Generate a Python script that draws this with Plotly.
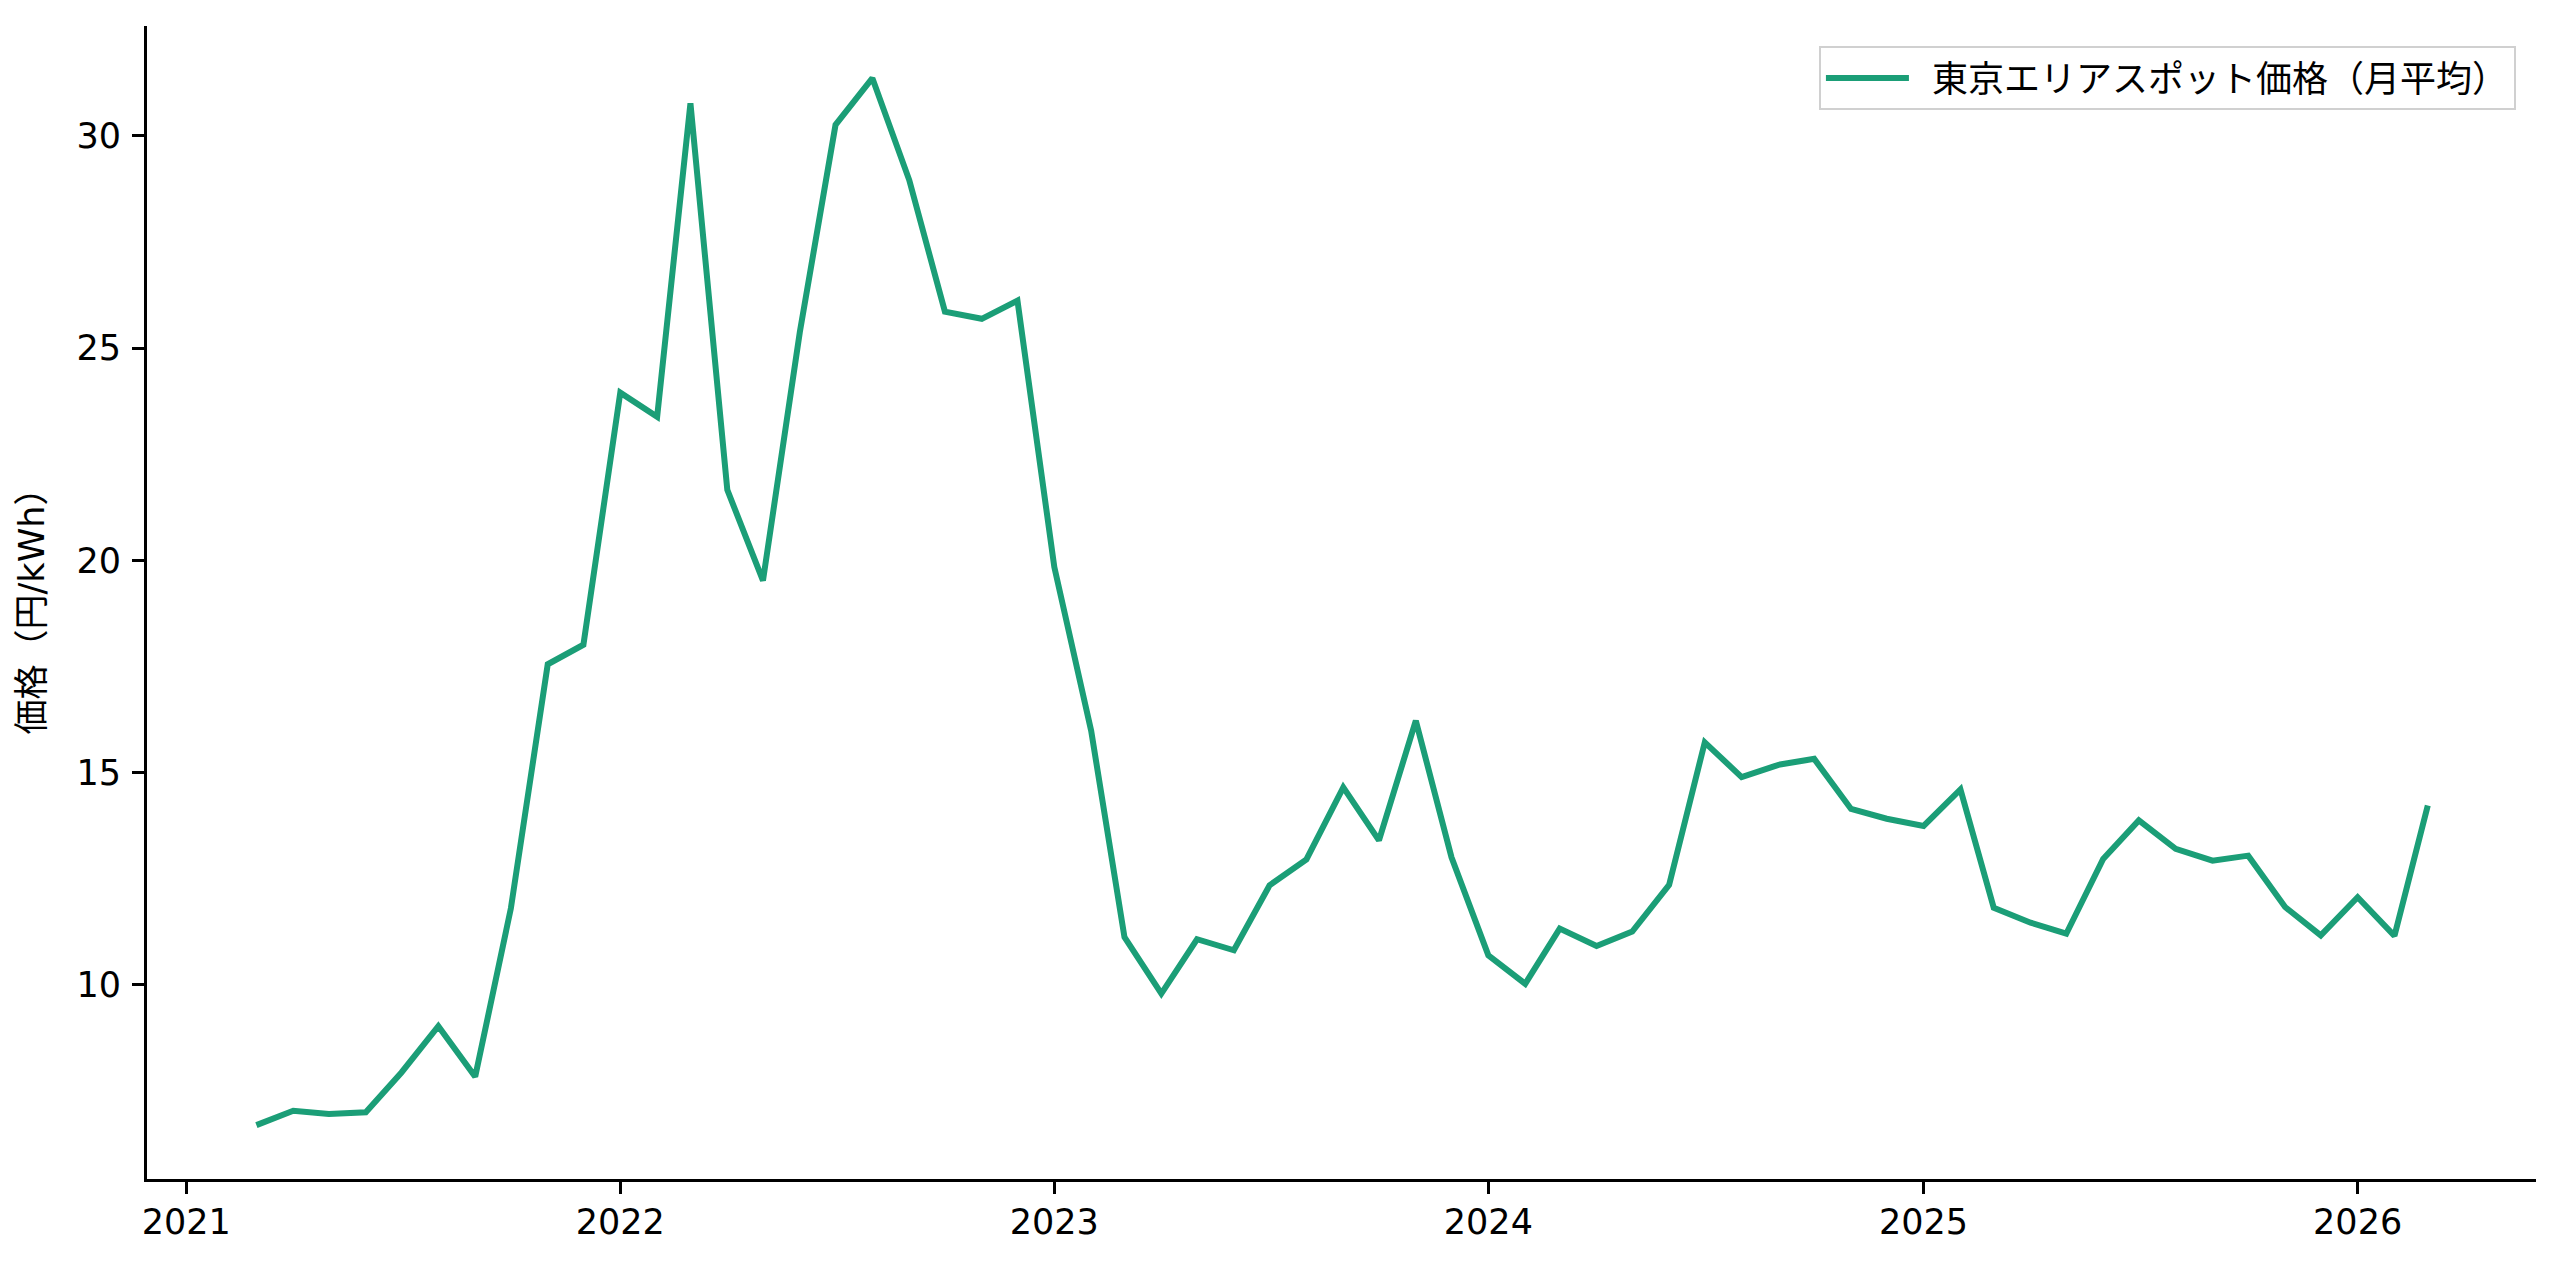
import plotly.graph_objects as go

months = [
    "2021-03-01", "2021-04-01", "2021-05-01", "2021-06-01", "2021-07-01", "2021-08-01",
    "2021-09-01", "2021-10-01", "2021-11-01", "2021-12-01",
    "2022-01-01", "2022-02-01", "2022-03-01", "2022-04-01", "2022-05-01", "2022-06-01",
    "2022-07-01", "2022-08-01", "2022-09-01", "2022-10-01", "2022-11-01", "2022-12-01",
    "2023-01-01", "2023-02-01", "2023-03-01", "2023-04-01", "2023-05-01", "2023-06-01",
    "2023-07-01", "2023-08-01", "2023-09-01", "2023-10-01", "2023-11-01", "2023-12-01",
    "2024-01-01", "2024-02-01", "2024-03-01", "2024-04-01", "2024-05-01", "2024-06-01",
    "2024-07-01", "2024-08-01", "2024-09-01", "2024-10-01", "2024-11-01", "2024-12-01",
    "2025-01-01", "2025-02-01", "2025-03-01", "2025-04-01", "2025-05-01", "2025-06-01",
    "2025-07-01", "2025-08-01", "2025-09-01", "2025-10-01", "2025-11-01", "2025-12-01",
    "2026-01-01", "2026-02-01", "2026-03-01",
]

tokyo_spot = [
    6.69, 7.03, 6.95, 6.99, 7.93, 9.02, 7.83, 11.80, 17.55, 18.01,
    23.95, 23.38, 30.77, 21.66, 19.52, 25.38, 30.26, 31.36, 28.96, 25.86, 25.69, 26.12,
    19.84, 15.98, 11.12, 9.79, 11.07, 10.81, 12.34, 12.95, 14.65, 13.40, 16.22, 13.00,
    10.69, 10.02, 11.32, 10.91, 11.25, 12.35, 15.71, 14.89, 15.18, 15.32, 14.14, 13.91,
    13.74, 14.60, 11.81, 11.46, 11.20, 12.96, 13.87, 13.20, 12.92, 13.04, 11.83, 11.16,
    12.06, 11.15, 14.22,
]

series_name = "東京エリアスポット価格（月平均）"
y_title = "価格（円/kWh）"

x_tick_vals = ["2021-01-01", "2022-01-01", "2023-01-01", "2024-01-01", "2025-01-01", "2026-01-01"]
x_tick_text = ["2021", "2022", "2023", "2024", "2025", "2026"]
y_tick_vals = [10, 15, 20, 25, 30]

font_family = "DejaVu Sans, Noto Sans CJK JP, sans-serif"
fs = 35

fig = go.Figure()
fig.add_trace(go.Scatter(
    x=months, y=tokyo_spot, mode="lines", name="\u2002" + series_name,
    line=dict(color="#1b9e77", width=6),
))

# the html page body has an 8px margin, so the figure is sized to fit inside it
fig.update_layout(
    width=2544, height=1251,
    margin=dict(l=139, r=16, t=18, b=80),
    paper_bgcolor="white", plot_bgcolor="white",
    font=dict(family=font_family, size=fs, color="black"),
    showlegend=True,
    legend=dict(
        x=0.9916, y=0.9826, xanchor="right", yanchor="top",
        bgcolor="rgba(255,255,255,0.8)", bordercolor="#d0d0d0", borderwidth=2,
        itemwidth=83,
        font=dict(family=font_family, size=36, color="black"),
    ),
    xaxis=dict(
        type="date",
        range=["2020-11-29", "2026-05-31"],
        tickvals=x_tick_vals, ticktext=x_tick_text,
        showgrid=False, zeroline=False,
        showline=True, linecolor="black", linewidth=3,
        ticks="outside", ticklen=12, tickwidth=3, tickcolor="black",
        ticklabelstandoff=-2,
        tickfont=dict(family=font_family, size=fs),
    ),
    yaxis=dict(
        range=[5.42, 32.59],
        tickvals=y_tick_vals,
        showgrid=False, zeroline=False,
        showline=True, linecolor="black", linewidth=3,
        ticks="outside", ticklen=12, tickwidth=3, tickcolor="black",
        ticklabelstandoff=4,
        tickfont=dict(family=font_family, size=fs),
        title=dict(text=y_title, font=dict(family=font_family, size=fs), standoff=22),
    ),
)

fig.write_html("out.html")
